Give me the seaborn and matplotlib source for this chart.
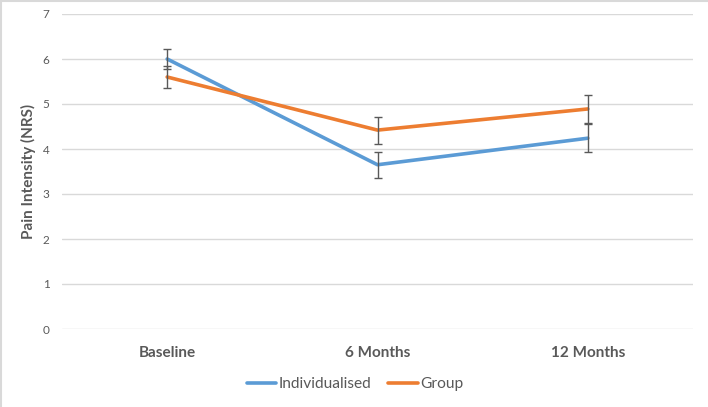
import matplotlib
matplotlib.use("Agg")
import matplotlib.pyplot as plt
from matplotlib.lines import Line2D
import seaborn as sns
import pandas as pd

categories = ["Baseline", "6 Months", "12 Months"]
individualised_mean = [6.00, 3.65, 4.24]
individualised_err = [0.22, 0.29, 0.31]
group_mean = [5.60, 4.42, 4.89]
group_err = [0.24, 0.30, 0.32]
series_names = ["Individualised", "Group"]
series_colors = ["#5B9BD5", "#ED7D31"]
y_ticks = [0, 1, 2, 3, 4, 5, 6, 7]

sns.set_theme(style="white")
plt.rcParams["font.family"] = ["Lato", "DejaVu Sans"]

df = pd.DataFrame({
    "time": categories * 2,
    "value": individualised_mean + group_mean,
    "err": individualised_err + group_err,
    "series": [series_names[0]] * 3 + [series_names[1]] * 3,
})

fig = plt.figure(figsize=(7.08, 4.07), dpi=100)
ax = fig.add_axes([62 / 708, 1 - 329 / 407, (693 - 62) / 708, (329 - 14) / 407])

sns.lineplot(data=df, x="time", y="value", hue="series", palette=series_colors,
             sort=False, linewidth=2.6, ax=ax, legend=True, zorder=3)

for name in series_names:
    sub = df[df["series"] == name]
    ax.errorbar(sub["time"], sub["value"], yerr=sub["err"], fmt="none",
                ecolor="#595959", elinewidth=1.0, capsize=3.2, capthick=1.0, zorder=4)

ax.set_xlim(-0.5, 2.5)
ax.set_ylim(0, 7)
ax.set_yticks(y_ticks)
ax.yaxis.grid(True, color="#D9D9D9", linewidth=1.0)
ax.xaxis.grid(False)
ax.set_axisbelow(True)
for s in ax.spines.values():
    s.set_visible(False)
ax.tick_params(axis="y", length=0, pad=9, labelsize=8.5, labelcolor="#595959")
ax.tick_params(axis="x", length=0, pad=12, labelsize=11, labelcolor="#595959")
for lbl in ax.get_xticklabels():
    lbl.set_fontweight("bold")
ax.set_xlabel("")
ax.set_ylabel("Pain Intensity (NRS)", fontsize=11, fontweight="bold", color="#595959", labelpad=5)

handles, labels = ax.get_legend_handles_labels()
ax.legend(handles, labels, loc="center", bbox_to_anchor=(355 / 708, 1 - 384 / 407),
          bbox_transform=fig.transFigure, ncol=2, frameon=False, fontsize=11.2,
          handlelength=1.9, handletextpad=0.15, columnspacing=1.1, labelcolor="#595959")

fig.add_artist(Line2D([0.5 / 708, 0.5 / 708], [0, 1], transform=fig.transFigure, color="#D9D9D9", linewidth=1.5))
fig.add_artist(Line2D([0, 1], [1 - 0.5 / 407, 1 - 0.5 / 407], transform=fig.transFigure, color="#D9D9D9", linewidth=1.5))

fig.savefig("out.png", dpi=100, facecolor="white")
